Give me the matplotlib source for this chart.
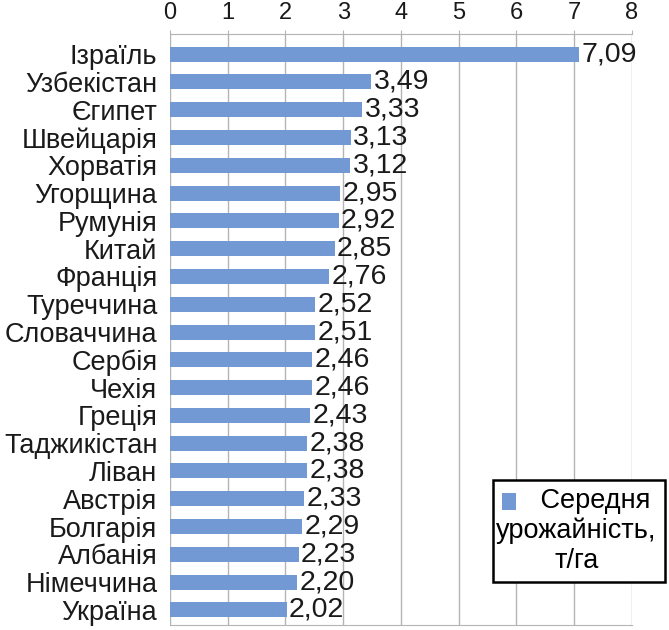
import matplotlib.pyplot as plt

# average yield by country, t/ha (top to bottom as in the chart)
countries = ['Ізраїль', 'Узбекістан', 'Єгипет', 'Швейцарія', 'Хорватія',
             'Угорщина', 'Румунія', 'Китай', 'Франція', 'Туреччина',
             'Словаччина', 'Сербія', 'Чехія', 'Греція', 'Таджикістан',
             'Ліван', 'Австрія', 'Болгарія', 'Албанія', 'Німеччина', 'Україна']
yields = [7.09, 3.49, 3.33, 3.13, 3.12, 2.95, 2.92, 2.85, 2.76, 2.52,
          2.51, 2.46, 2.46, 2.43, 2.38, 2.38, 2.33, 2.29, 2.23, 2.20, 2.02]
xticks = [0, 1, 2, 3, 4, 5, 6, 7, 8]
legend_label = '     Середня\nурожайність,\nт/га'

plt.rcParams['font.family'] = ['Liberation Sans', 'DejaVu Sans']

bar_color = '#7399d4'
grid_color = '#b4b4b4'
txt_color = '#1a1a1a'
fs = 19.5

fig = plt.figure(figsize=(6.69, 6.30), dpi=100)
ax = fig.add_axes([0.254, 0.008, 0.6906, 0.9388])

pos = list(range(len(countries)))
ax.barh(pos, yields, height=0.54, color=bar_color, zorder=3, label=legend_label)

for p, v in zip(pos, yields):
    ax.text(v + 0.04, p, f'{v:.2f}'.replace('.', ','), va='center', ha='left',
            fontsize=20.5, color=txt_color, zorder=4)

ax.set_xlim(0, 8)
ax.set_ylim(20.54, -0.74)
ax.set_xticks(xticks)
ax.set_yticks(pos)
ax.set_yticklabels(countries)
ax.xaxis.tick_top()
ax.tick_params(axis='x', length=3, color=grid_color, labelsize=17, pad=4,
               labelcolor=txt_color)
ax.tick_params(axis='y', length=0, labelsize=fs, pad=9, labelcolor=txt_color)
ax.grid(axis='x', color=grid_color, linewidth=1, zorder=0)

for s in ['left', 'right']:
    ax.spines[s].set_visible(False)
ax.spines['top'].set_color(grid_color)
ax.spines['bottom'].set_color(grid_color)

leg = ax.legend(loc='lower right', bbox_to_anchor=(1.071, 0.072), fontsize=fs,
                frameon=True, fancybox=False, edgecolor='black',
                handlelength=0.55, handleheight=0.55, handletextpad=-0.75,
                borderpad=0.3, borderaxespad=0, framealpha=1)
leg.get_frame().set_linewidth(1.8)
for t in leg.get_texts():
    t.set_multialignment('center')
# put the colour square on the first line of the label
h = leg.legend_handles[0]
h.set_y(h.get_y() + 1.1 * fs)

fig.savefig('out.png', dpi=100)
